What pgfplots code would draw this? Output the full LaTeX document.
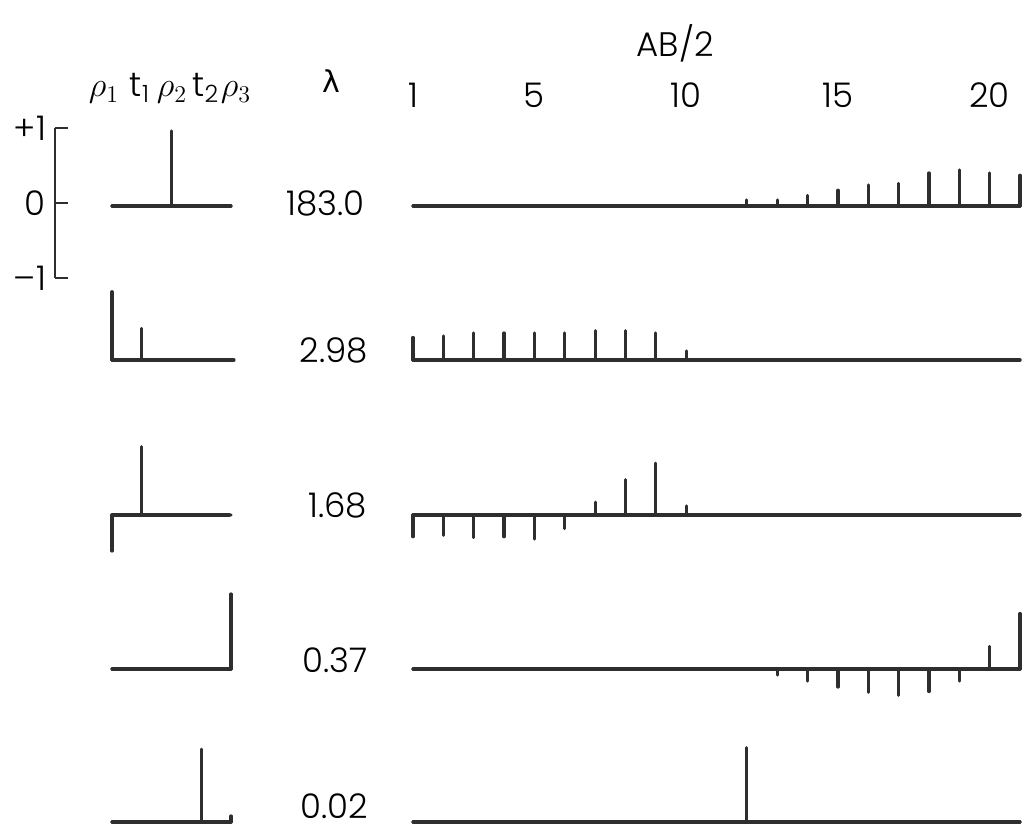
\documentclass[border=0pt]{standalone}
\usepackage{pgfplots}
\pgfplotsset{compat=1.18}
\usepackage{pgfplotstable}
\usepackage{fontspec}
\setmainfont{Poppins Light}
\newfontfamily\greekfont{DejaVu Sans}
\definecolor{ink}{gray}{0.18}

% eigenvector components, data side (AB/2 index 1..21)
\pgfplotstableread{
idx  e1    e2    e3    e4    e5
1    0     0.30 -0.29  0     0
2    0     0.32 -0.27  0     0
3    0     0.36 -0.30  0     0
4    0     0.36 -0.29  0     0
5    0     0.36 -0.32  0     0
6    0     0.36 -0.18  0     0
7    0     0.39  0.17  0     0
8    0     0.39  0.47  0     0
9    0     0.36  0.69  0     0
10   0     0.12  0.12  0     0
11   0     0     0     0     0
12   0.08  0     0     0     0.99
13   0.08  0     0    -0.08  0
14   0.14  0     0    -0.16  0
15   0.21  0     0    -0.24  0
16   0.28  0     0    -0.31  0
17   0.30  0     0    -0.35  0
18   0.44  0     0    -0.30  0
19   0.48  0     0    -0.16  0
20   0.44  0     0     0.30  0
21   0.41  0     0     0.74  0
}\datavec

% eigenvector components, parameter side (rho1 t1 rho2 t2 rho3)
\pgfplotstableread{
par  e1    e2    e3    e4    e5
1    0     0.91 -0.48  0     0
2    0     0.42  0.91  0     0
3    1.00  0     0     0     0
4    0     0     0     0     0.97
5    0     0     0     1.00  0.08
}\parvec

\pgfplotsset{
  eigbase/.style={scale only axis, clip=false, ymin=-1, ymax=1, height=75pt, anchor=west},
  dataaxis/.style={eigbase, xmin=1, xmax=21, width=303.5pt},
  paraxis/.style={eigbase, axis lines=none, xmin=1, xmax=5, width=59.5pt},
  stem/.style={ink, line width=1.6pt, line cap=round, ycomb, no marks},
  base/.style={ink, line width=1.6pt, line cap=round, no marks},
}

\begin{document}
\begin{tikzpicture}[font=\fontsize{17}{20}\selectfont]

% scale bar
\begin{axis}[scale only axis, at={(27.5pt,314pt)}, anchor=west,
  width=6.5pt, height=75pt, xmin=0, xmax=1, ymin=-1, ymax=1,
  axis x line=none, axis y line=left, y axis line style={-, ink, line width=1.1pt},
  ytick={-1,0,1}, yticklabels={–1,0,+1}, tick align=inside,
  major tick length=6.5pt, every tick/.style={ink, line width=1.1pt},
  yticklabel style={font=\fontsize{17}{20}\selectfont, xshift=-1pt},
  /pgf/number format/assume math mode=true]
\end{axis}

% row 1
\begin{axis}[paraxis, at={(56pt,312.5pt)}]
  \addplot[base] coordinates {(1,0) (5,0)};
  \addplot[stem] table[x=par, y=e1] {\parvec};
\end{axis}
\begin{axis}[dataaxis, at={(206.5pt,312.5pt)},
  axis line style={draw=none}, ytick=\empty, xtick={1,5,10,15,20},
  xticklabel pos=upper, major tick length=0pt,
  xticklabel style={font=\fontsize{17}{20}\selectfont, yshift=8pt},
  /pgf/number format/assume math mode=true]
  \addplot[base] coordinates {(1,0) (21,0)};
  \addplot[stem] table[x=idx, y=e1] {\datavec};
\end{axis}

% row 2
\begin{axis}[paraxis, at={(56pt,235.5pt)}]
  \addplot[base] coordinates {(1,0) (5.1,0)};
  \addplot[stem] table[x=par, y=e2] {\parvec};
\end{axis}
\begin{axis}[dataaxis, axis lines=none, at={(206.5pt,235.5pt)}]
  \addplot[base] coordinates {(1,0) (21,0)};
  \addplot[stem] table[x=idx, y=e2] {\datavec};
\end{axis}

% row 3
\begin{axis}[paraxis, at={(56pt,158pt)}]
  \addplot[base] coordinates {(1,0) (4.95,0)};
  \addplot[stem] table[x=par, y=e3] {\parvec};
\end{axis}
\begin{axis}[dataaxis, axis lines=none, at={(206.5pt,158pt)}]
  \addplot[base] coordinates {(1,0) (21,0)};
  \addplot[stem] table[x=idx, y=e3] {\datavec};
\end{axis}

% row 4
\begin{axis}[paraxis, at={(56pt,81pt)}]
  \addplot[base] coordinates {(1,0) (5,0)};
  \addplot[stem] table[x=par, y=e4] {\parvec};
\end{axis}
\begin{axis}[dataaxis, axis lines=none, at={(206.5pt,81pt)}]
  \addplot[base] coordinates {(1,0) (21,0)};
  \addplot[stem] table[x=idx, y=e4] {\datavec};
\end{axis}

% row 5
\begin{axis}[paraxis, at={(56pt,4.5pt)}]
  \addplot[base] coordinates {(1,0) (5,0)};
  \addplot[stem] table[x=par, y=e5] {\parvec};
\end{axis}
\begin{axis}[dataaxis, axis lines=none, at={(206.5pt,4.5pt)}]
  \addplot[base] coordinates {(1,0) (21,0)};
  \addplot[stem] table[x=idx, y=e5] {\datavec};
\end{axis}

% headers
\node[anchor=base, font=\fontsize{18}{20}\selectfont] at (52pt,367pt) {$\rho_1$};
\node[anchor=base] at (70pt,367pt) {t\textsubscript{1}};
\node[anchor=base, font=\fontsize{18}{20}\selectfont] at (86pt,367pt) {$\rho_2$};
\node[anchor=base] at (103pt,367pt) {t\textsubscript{2}};
\node[anchor=base, font=\fontsize{18}{20}\selectfont] at (118pt,367pt) {$\rho_3$};
\node[anchor=base, font=\greekfont\fontsize{15}{18}\selectfont] at (165.5pt,369pt) {λ};
\node[anchor=base, font=\fontsize{17}{20}\selectfont] at (337.5pt,387pt) {AB/2};

% eigenvalues
\node[anchor=base east] at (186pt,307.5pt) {183.0};
\node[anchor=base east] at (187.5pt,234pt) {2.98};
\node[anchor=base east] at (187pt,156.5pt) {1.68};
\node[anchor=base east] at (187.5pt,79pt) {0.37};
\node[anchor=base east] at (187.5pt,6pt) {0.02};

\pgfresetboundingbox
\path (0pt,0pt) rectangle (512pt,415.5pt);
\end{tikzpicture}
\end{document}
